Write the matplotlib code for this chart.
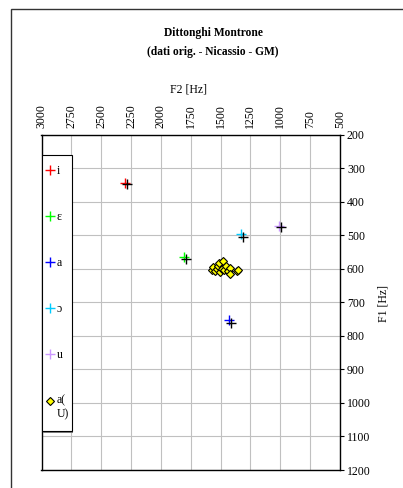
import matplotlib
matplotlib.use('Agg')
import matplotlib.pyplot as plt
from matplotlib.patches import Rectangle
from matplotlib.legend_handler import HandlerLine2D

plt.rcParams['font.family'] = ['Liberation Serif', 'DejaVu Serif']

# vocali (punti colorati) e valori medi (croci nere)
vowel_labels = ['i', 'ɛ', 'a', 'ɔ', 'u']
vowel_colors = ['#ff0000', '#00ff00', '#0000ff', '#00ccff', '#cc99ff']
vowel_f2 = [2300, 1807, 1431, 1330, 1010]
vowel_f1 = [344, 565, 754, 498, 472]
mean_f2 = [2286, 1790, 1414, 1311, 998]
mean_f1 = [348, 570, 762, 506, 476]

# dittongo a(U)
diph_label = 'a(\nU)'
diph_f2 = [1570, 1562, 1550, 1533, 1525, 1512, 1506, 1492, 1478, 1473,
           1458, 1442, 1422, 1422, 1366, 1353]
diph_f1 = [603, 596, 608, 601, 593, 583, 611, 600, 578, 605,
           593, 608, 598, 616, 608, 603]

x_ticks = [3000, 2750, 2500, 2250, 2000, 1750, 1500, 1250, 1000, 750, 500]
y_ticks = [200, 300, 400, 500, 600, 700, 800, 900, 1000, 1100, 1200]


class TopHandler(HandlerLine2D):
    # sposta il marker in alto, sulla prima riga dell'etichetta
    def create_artists(self, legend, orig_handle, xdescent, ydescent, width,
                       height, fontsize, trans):
        arts = super().create_artists(legend, orig_handle, xdescent, ydescent,
                                      width, height, fontsize, trans)
        for a in arts:
            a.set_ydata([y + 0.55 * fontsize for y in a.get_ydata()])
        return arts


fig = plt.figure(figsize=(4.03, 4.88), dpi=100)
ax = fig.add_axes([41.5 / 403, 1 - 470 / 488, (340 - 41.5) / 403, (470 - 134.5) / 488])

for lab, col, f2, f1 in zip(vowel_labels, vowel_colors, vowel_f2, vowel_f1):
    ax.plot(f2, f1, linestyle='none', marker='+', color=col, markersize=7,
            markeredgewidth=1, label=lab, zorder=3)
ax.plot(mean_f2, mean_f1, linestyle='none', marker='+', color='black',
        markersize=7, markeredgewidth=1, zorder=4)
diph_line, = ax.plot(diph_f2, diph_f1, linestyle='none', marker='D',
                     markerfacecolor='#ffff00', markeredgecolor='black',
                     markeredgewidth=0.8, markersize=4, label=diph_label, zorder=5)

ax.set_xlim(3000, 500)
ax.set_ylim(1200, 200)
ax.set_xticks(x_ticks)
ax.set_yticks(y_ticks)
ax.xaxis.tick_top()
ax.yaxis.tick_right()
ax.tick_params(axis='x', length=0, pad=4.5, labelsize=8.5, labelrotation=90)
ax.tick_params(axis='y', length=3, width=0.8, direction='out', pad=2, labelsize=8.5)
ax.grid(True, color='#c0c0c0', linewidth=0.8)
ax.set_axisbelow(True)
for sp in ax.spines.values():
    sp.set_color('black')
    sp.set_linewidth(1)

# riquadro della legenda (bianco, bordo nero con ombra grigia a destra)
h_ax = 335.5
w_ax = 298.5
box_y0 = (470 - 431) / h_ax
box_h = (431 - 155) / h_ax
box_w = (71.5 - 41.5) / w_ax
ax.add_patch(Rectangle((1.5 / w_ax, box_y0 - 1.5 / h_ax), box_w, box_h,
                       transform=ax.transAxes, facecolor='#808080',
                       edgecolor='none', zorder=6))
ax.add_patch(Rectangle((0, box_y0), box_w, box_h, transform=ax.transAxes,
                       facecolor='white', edgecolor='black', linewidth=0.8,
                       zorder=6))

leg = ax.legend(loc='upper left', bbox_to_anchor=(0, (470 - 161) / h_ax),
                borderaxespad=0, fontsize=8.5, frameon=False,
                handlelength=0.7, handletextpad=0.25, labelspacing=2.87,
                borderpad=0.35, handler_map={diph_line: TopHandler()})
leg.set_zorder(7)

fig.text(213 / 403, 1 - 33 / 488, 'Dittonghi Montrone', ha='center', va='center',
         fontsize=8.3, fontweight='bold')
fig.text(213 / 403, 1 - 52 / 488, '(dati orig. - Nicassio - GM)', ha='center',
         va='center', fontsize=8.3, fontweight='bold')
fig.text(189 / 403, 1 - 90 / 488, 'F2 [Hz]', ha='center', va='center', fontsize=8.5)
fig.text(383 / 403, 1 - 303 / 488, 'F1 [Hz]', ha='center', va='center',
         fontsize=8.5, rotation=90)

fig.patches.append(Rectangle((11 / 403, -0.1), 1.2, 1.1 - 9 / 488, fill=False,
                             edgecolor='#333333', linewidth=1,
                             transform=fig.transFigure, figure=fig))

fig.savefig('out.png', dpi=100)
